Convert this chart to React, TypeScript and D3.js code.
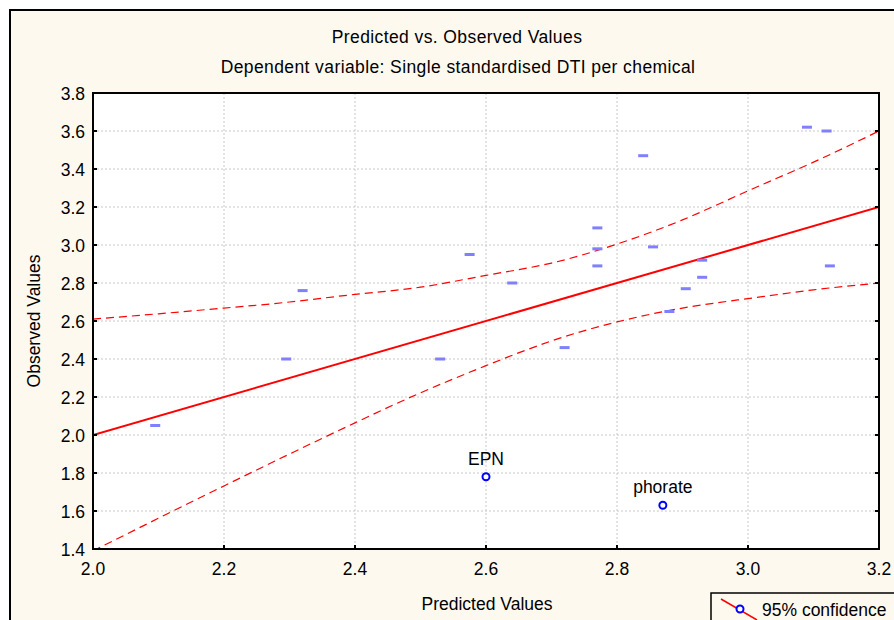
import React from "react";
import * as d3 from "d3";

const predicted = [2.095, 2.295, 2.32, 2.53, 2.575, 2.64, 2.72, 2.77, 2.77, 2.77, 2.84, 2.855, 2.88, 2.905, 2.93, 2.93, 3.09, 3.12, 3.125];
const observed = [2.05, 2.40, 2.76, 2.40, 2.95, 2.80, 2.46, 2.89, 3.09, 2.98, 3.47, 2.99, 2.65, 2.77, 2.92, 2.83, 3.62, 3.60, 2.89];

const outlierNames = ["EPN", "phorate"];
const outlierPredicted = [2.60, 2.87];
const outlierObserved = [1.78, 1.63];

const fitX = [2.0, 3.2];
const fitY = [2.0, 3.2];

const bandX = [2.0, 2.1, 2.2, 2.3, 2.4, 2.5, 2.6, 2.7, 2.8, 2.9, 3.0, 3.1, 3.2];
const bandUpper = [2.61, 2.638, 2.668, 2.70, 2.74, 2.778, 2.84, 2.905, 3.005, 3.132, 3.285, 3.436, 3.60];
const bandLower = [1.39, 1.562, 1.732, 1.90, 2.064, 2.222, 2.365, 2.495, 2.595, 2.668, 2.718, 2.764, 2.80];

const xTicks = [2.0, 2.2, 2.4, 2.6, 2.8, 3.0, 3.2];
const yTicks = [1.4, 1.6, 1.8, 2.0, 2.2, 2.4, 2.6, 2.8, 3.0, 3.2, 3.4, 3.6, 3.8];

const title = "Predicted vs. Observed Values";
const subtitle = "Dependent variable: Single standardised DTI per chemical";
const xLabel = "Predicted Values";
const yLabel = "Observed Values";
const legendLabel = "95% confidence";

export default function App() {
  const W = 894, H = 620;
  const L = 93, R = 879, T = 93, B = 549;
  const x = d3.scaleLinear().domain([2.0, 3.2]).range([L, R]);
  const y = d3.scaleLinear().domain([1.4, 3.8]).range([B, T]);
  const font = "'Liberation Sans', Arial, sans-serif";
  const fs = 17.5;

  const line = d3.line<[number, number]>().x(d => x(d[0])).y(d => y(d[1]));
  const curve = d3.line<[number, number]>().x(d => x(d[0])).y(d => y(d[1])).curve(d3.curveNatural);
  const upper = bandX.map((v, i) => [v, bandUpper[i]] as [number, number]);
  const lower = bandX.map((v, i) => [v, bandLower[i]] as [number, number]);
  const fit = fitX.map((v, i) => [v, fitY[i]] as [number, number]);

  return (
    <svg width={W} height={H} style={{ position: "absolute", left: 0, top: 0 }} fontFamily={font}>
      <defs>
        <clipPath id="plotclip">
          <rect x={L} y={T} width={R - L} height={B - T} />
        </clipPath>
      </defs>
      <rect x={0} y={0} width={W} height={H} fill="#ffffff" />
      <rect x={10} y={10} width={W + 20} height={H + 20} fill="#fdf9ef" stroke="#000" strokeWidth={2} />
      <rect x={L} y={T} width={R - L} height={B - T} fill="#ffffff" />

      <text x={457} y={43} textAnchor="middle" fontSize={fs} letterSpacing={0.4} fill="#000">{title}</text>
      <text x={458} y={73} textAnchor="middle" fontSize={fs} letterSpacing={0.4} fill="#000">{subtitle}</text>

      {/* grid */}
      {yTicks.slice(1, -1).map(t => (
        <line key={"gy" + t} x1={L} x2={R} y1={y(t)} y2={y(t)} stroke="#c8c8c8" strokeWidth={1} strokeDasharray="2,2" />
      ))}
      {xTicks.slice(1, -1).map(t => (
        <line key={"gx" + t} x1={x(t)} x2={x(t)} y1={T} y2={B} stroke="#c8c8c8" strokeWidth={1} strokeDasharray="2,2" />
      ))}

      <g clipPath="url(#plotclip)">
        <path d={curve(upper) || ""} fill="none" stroke="#ff0000" strokeWidth={1.2} strokeDasharray="8,5" />
        <path d={curve(lower) || ""} fill="none" stroke="#ff0000" strokeWidth={1.2} strokeDasharray="8,5" />
        <path d={line(fit) || ""} fill="none" stroke="#ff0000" strokeWidth={2} />
      </g>

      {predicted.map((p, i) => (
        <rect key={"m" + i} x={x(p) - 5} y={y(observed[i]) - 1.5} width={10} height={3} fill="#8080ff" />
      ))}

      {outlierNames.map((n, i) => (
        <g key={n}>
          <circle cx={x(outlierPredicted[i])} cy={y(outlierObserved[i])} r={3.5} fill="#fff" stroke="#0000ff" strokeWidth={2} />
          <text x={x(outlierPredicted[i])} y={y(outlierObserved[i]) - 12} textAnchor="middle" fontSize={fs} fill="#000">{n}</text>
        </g>
      ))}

      {/* axes frame */}
      <rect x={L} y={T} width={R - L} height={B - T} fill="none" stroke="#000" strokeWidth={2} />

      {yTicks.map(t => (
        <g key={"yt" + t}>
          <line x1={L} x2={L + 4} y1={y(t)} y2={y(t)} stroke="#000" strokeWidth={2} />
          <line x1={R - 4} x2={R} y1={y(t)} y2={y(t)} stroke="#000" strokeWidth={2} />
          <text x={L - 8} y={y(t) + 6.5} textAnchor="end" fontSize={fs} fill="#000">{t.toFixed(1)}</text>
        </g>
      ))}
      {xTicks.map(t => (
        <g key={"xt" + t}>
          <line x1={x(t)} x2={x(t)} y1={B - 4} y2={B} stroke="#000" strokeWidth={2} />
          <text x={x(t)} y={575} textAnchor="middle" fontSize={fs} fill="#000">{t.toFixed(1)}</text>
        </g>
      ))}

      <text x={487} y={610} textAnchor="middle" fontSize={fs} fill="#000">{xLabel}</text>
      <text transform={`translate(40,${(T + B) / 2}) rotate(-90)`} textAnchor="middle" fontSize={fs} fill="#000">{yLabel}</text>

      {/* legend */}
      <rect x={711} y={593} width={200} height={40} fill="#fdf9ef" stroke="#000" strokeWidth={1.5} />
      <line x1={721} y1={599} x2={757} y2={620} stroke="#ff0000" strokeWidth={1.5} />
      <circle cx={740} cy={609} r={3.5} fill="#fff" stroke="#0000ff" strokeWidth={2} />
      <text x={762} y={616} fontSize={fs} fill="#000">{legendLabel}</text>
    </svg>
  );
}
